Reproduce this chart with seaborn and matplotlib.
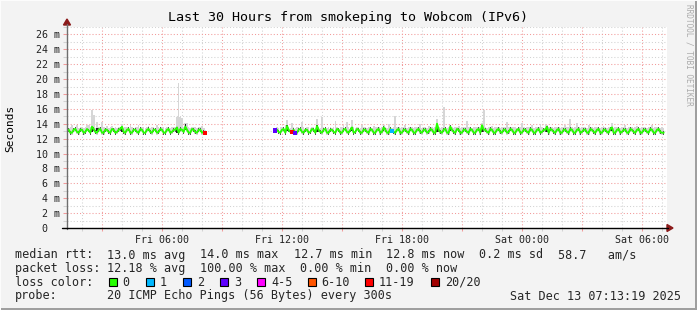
import numpy as np
import pandas as pd
import matplotlib
matplotlib.use("Agg")
import matplotlib.pyplot as plt
import seaborn as sns
from matplotlib.lines import Line2D
from matplotlib.patches import Polygon, Rectangle
from matplotlib.ticker import MultipleLocator, FuncFormatter

# ---------------- data ----------------
STEP_MIN = 5
LEFT_START_H = 1.25          # Fri 01:15
RIGHT_START_H = 11 + 40 / 60  # Fri 11:40

left_median = [
    13.1, 13.2, 12.8, 12.8, 13.2, 13.3, 12.9, 12.8, 13.2, 13.2, 12.8, 12.9,
    13.3, 13.1, 12.8, 13.6, 13.3, 12.9, 12.8, 13.2, 13.3, 12.8, 12.8, 13.2,
    13.2, 12.9, 12.8, 13.3, 13.2, 12.8, 12.9, 13.2, 13.3, 13.6, 12.9, 12.8,
    13.2, 13.3, 12.8, 12.8, 13.2, 13.2, 12.9, 12.8, 13.3, 13.2, 12.8, 12.8,
    13.2, 13.3, 12.9, 12.8, 13.2, 13.2, 12.8, 12.9, 13.3, 13.2, 12.8, 12.8,
    13.2, 13.3, 12.8, 12.9, 13.2, 13.2, 13.5, 12.8, 13.3, 13.2, 12.9, 13.6,
    13.2, 12.8, 12.8, 13.3, 13.2, 12.9, 12.8, 13.2, 13.2, 12.8, 12.9, 12.7,
]
left_hi = [
    13.6, 13.5, 13.6, 13.9, 13.5, 13.6, 13.9, 13.5, 13.6, 13.6, 13.5, 13.6,
    13.9, 13.9, 13.6, 15.9, 15.2, 13.5, 14.3, 13.6, 13.5, 14.3, 13.6, 13.5,
    13.7, 13.5, 13.6, 13.7, 13.5, 13.6, 13.5, 13.6, 13.6, 14.0, 13.5, 13.6,
    13.6, 13.5, 13.8, 13.6, 13.5, 13.6, 13.6, 13.8, 13.5, 13.6, 13.6, 13.5,
    13.6, 13.7, 13.5, 13.6, 13.6, 13.5, 13.8, 13.6, 13.5, 13.6, 13.6, 13.5,
    13.6, 13.6, 13.5, 13.6, 13.6, 13.6, 14.9, 19.5, 14.9, 14.8, 13.6, 14.1,
    14.1, 13.6, 13.5, 13.6, 13.6, 13.6, 13.5, 13.6, 13.6, 13.7, 13.5, 13.2,
]
left_dark = {15: (12.9, 13.6), 18: (13.0, 13.5), 33: (12.9, 13.6),
             66: (12.8, 13.6), 71: (13.1, 14.0)}
left_loss = {83: "11-19"}

right_median = [
    13.1, 13.2, 12.9, 12.8, 13.2, 13.3, 12.8, 13.7, 13.2, 12.9, 12.9, 13.2,
    12.8, 12.8, 13.2, 13.3, 12.9, 12.8, 13.2, 13.2, 12.8, 12.9, 13.3, 13.2,
    12.8, 13.7, 13.2, 12.9, 12.8, 13.2, 13.3, 12.8, 12.8, 13.2, 13.2, 12.9,
    12.8, 13.3, 13.2, 12.8, 12.8, 13.2, 13.3, 12.9, 12.8, 13.2, 13.5, 12.8,
    12.9, 13.3, 13.2, 12.8, 12.8, 13.2, 13.2, 12.9, 12.8, 13.3, 13.2, 12.8,
    12.8, 13.2, 13.3, 12.8, 12.9, 13.5, 13.2, 12.8, 12.8, 13.3, 13.0, 12.9,
    12.8, 13.2, 13.3, 12.8, 12.8, 13.2, 13.2, 12.9, 12.8, 13.3, 13.2, 12.8,
    12.8, 13.2, 13.3, 12.9, 12.8, 13.2, 13.2, 12.8, 12.9, 13.3, 13.2, 12.8,
    12.8, 14.0, 13.2, 12.9, 12.8, 13.2, 13.3, 12.8, 12.8, 13.6, 13.2, 12.9,
    12.8, 13.3, 13.2, 12.8, 12.8, 13.2, 13.2, 12.9, 12.8, 13.3, 13.2, 12.8,
    12.8, 13.2, 13.3, 12.8, 13.8, 13.2, 13.2, 12.9, 12.8, 13.3, 13.2, 12.8,
    12.8, 13.2, 13.3, 12.9, 12.8, 13.2, 13.2, 12.8, 12.9, 13.3, 13.2, 12.8,
    12.8, 13.2, 13.3, 12.8, 12.8, 13.2, 13.2, 12.9, 12.8, 13.3, 13.2, 12.8,
    12.8, 13.2, 13.3, 12.8, 12.9, 13.2, 13.2, 13.6, 12.8, 13.3, 13.2, 12.9,
    12.8, 13.2, 13.3, 12.8, 12.8, 13.2, 13.2, 12.9, 12.8, 13.3, 13.2, 12.8,
    12.8, 13.2, 13.3, 12.8, 12.9, 13.2, 13.2, 12.8, 12.8, 13.3, 13.2, 12.9,
    12.8, 13.2, 13.3, 12.8, 12.8, 13.2, 13.2, 12.9, 12.8, 13.3, 13.5, 12.8,
    12.8, 13.2, 13.3, 12.8, 12.9, 13.2, 13.2, 12.8, 12.8, 13.3, 13.2, 12.9,
    12.8, 13.2, 13.3, 12.8, 12.8, 13.2, 13.2, 12.9, 12.8, 13.3, 13.2, 12.8,
    12.8, 13.2, 13.3, 12.9, 12.8, 12.8,
]
right_hi = [
    13.5, 13.6, 13.5, 13.6, 13.6, 13.5, 13.9, 14.5, 13.6, 13.5, 14.1, 13.6,
    13.5, 13.6, 13.6, 13.5, 14.3, 13.6, 13.5, 13.6, 13.6, 13.5, 13.6, 13.6,
    13.5, 14.6, 13.6, 13.5, 14.9, 13.6, 13.6, 13.5, 13.6, 13.6, 13.5, 13.6,
    14.4, 13.6, 13.5, 13.6, 13.6, 13.8, 13.6, 14.3, 13.6, 13.6, 14.5, 13.6,
    13.5, 13.6, 13.6, 13.5, 13.8, 13.6, 13.6, 13.5, 13.6, 13.6, 13.5, 13.7,
    13.6, 13.6, 13.6, 13.5, 13.6, 13.8, 13.6, 13.5, 14.0, 13.6, 13.5, 13.6,
    15.0, 13.6, 13.6, 13.5, 13.6, 13.6, 13.8, 13.5, 13.6, 13.6, 13.6, 13.5,
    13.6, 13.6, 13.6, 14.0, 13.5, 13.6, 13.6, 13.5, 13.7, 13.6, 13.6, 13.5,
    13.6, 14.6, 13.6, 13.5, 13.6, 16.2, 13.6, 13.5, 13.6, 13.9, 13.6, 13.5,
    13.6, 13.6, 13.7, 13.5, 13.6, 13.6, 13.6, 14.4, 13.6, 13.6, 13.5, 13.6,
    13.6, 13.6, 13.6, 13.5, 14.1, 15.9, 13.6, 13.5, 13.6, 13.6, 13.7, 13.5,
    13.6, 13.6, 13.6, 13.5, 13.6, 13.6, 13.6, 14.2, 13.6, 13.5, 13.6, 13.6,
    13.6, 13.5, 13.6, 13.6, 14.1, 13.6, 13.5, 13.6, 13.6, 13.6, 13.8, 13.5,
    13.6, 13.6, 13.6, 14.0, 13.6, 13.5, 14.0, 13.9, 13.6, 13.6, 13.6, 13.5,
    13.6, 13.6, 13.6, 13.5, 13.6, 13.6, 13.8, 13.6, 13.6, 14.7, 13.6, 13.5,
    13.6, 14.1, 13.6, 13.5, 13.6, 13.6, 13.6, 13.5, 13.8, 13.6, 13.6, 13.5,
    13.6, 13.6, 13.6, 13.5, 13.6, 13.7, 13.6, 13.5, 13.6, 13.6, 14.1, 13.5,
    13.6, 13.6, 13.6, 13.5, 13.6, 13.6, 13.8, 13.5, 13.6, 13.6, 13.6, 13.5,
    13.6, 13.7, 13.6, 13.5, 13.6, 13.6, 13.6, 13.5, 13.6, 13.6, 13.9, 13.5,
    13.6, 13.6, 13.6, 13.5, 13.6, 13.5,
]
right_dark = {7: (13.0, 13.8), 25: (12.9, 13.8), 46: (13.0, 13.6), 65: (13.0, 13.6),
              97: (12.9, 14.0), 105: (13.0, 13.6), 124: (12.9, 13.9),
              163: (12.9, 13.7), 202: (13.0, 13.5)}
right_loss = {0: "3", 10: "11-19", 12: "3", 70: "1"}

SMOKE_SPREAD = 0.25   # half-width of the dense ping core around the median (ms)

LOSS_LABELS = ["0", "1", "2", "3", "4-5", "6-10", "11-19", "20/20"]
LOSS_COLORS = ["#26ff00", "#00b8ff", "#0059ff", "#5e00ff", "#ff00ff",
               "#ff5500", "#ff0000", "#a00000"]

TICK_HOURS = {6: "Fri 06:00", 12: "Fri 12:00", 18: "Fri 18:00",
              24: "Sat 00:00", 30: "Sat 06:00"}
X_RANGE = (1.25, 31.25)
Y_MAX = 27.0

TITLE = "Last 30 Hours from smokeping to Wobcom (IPv6)"
RTT_STATS = ["13.0 ms avg", "14.0 ms max", "12.7 ms min", "12.8 ms now",
             "0.2 ms sd", "58.7   am/s"]
LOSS_STATS = ["12.18 % avg", "100.00 % max", "0.00 % min", "0.00 % now"]
PROBE = "20 ICMP Echo Pings (56 Bytes) every 300s"
STAMP = "Sat Dec 13 07:13:19 2025"

# ---------------- figure ----------------
sns.set_theme(style="white")
MONO = ['DejaVu Sans Mono', 'DejaVu Sans']
plt.rcParams['font.family'] = MONO

W, H = 697, 310
BG = '#f3f3f3'
fig = plt.figure(figsize=(W / 100, H / 100), dpi=100, facecolor=BG)


def fx(p):
    return p / W


def fy(p):
    return 1 - p / H


ax = fig.add_axes([fx(67), fy(228), fx(667) - fx(67), fy(27) - fy(228)])
ax.set_facecolor('white')
step_h = STEP_MIN / 60.0


def seg_frame(start, med, hi):
    n = min(len(med), len(hi))
    t = [start + i * step_h for i in range(n)]
    return pd.DataFrame({"hours": t, "median": med[:n], "hi": hi[:n]})


segments = [
    (seg_frame(LEFT_START_H, left_median, left_hi), left_dark, left_loss),
    (seg_frame(RIGHT_START_H, right_median, right_hi), right_dark, right_loss),
]

for df, dark, loss in segments:
    # light smoke (full ping range)
    ax.bar(df["hours"], df["hi"] - df["median"] + SMOKE_SPREAD,
           bottom=df["median"] - SMOKE_SPREAD,
           width=step_h, color='#d6d6d6', linewidth=0, zorder=2)
    # dense core of the smoke around the median
    ax.bar(df["hours"], 2 * SMOKE_SPREAD, bottom=df["median"] - SMOKE_SPREAD,
           width=step_h * 0.5, color='#555555', linewidth=0, zorder=2.5)
    di = [i for i in dark if i < len(df)]
    ax.bar(df["hours"].iloc[di], [dark[i][1] - dark[i][0] for i in di],
           bottom=[dark[i][0] for i in di], width=step_h * 0.8,
           color='#1e1e1e', linewidth=0, zorder=3)
    sns.lineplot(data=df, x="hours", y="median", ax=ax, color=LOSS_COLORS[0],
                 lw=1.4, estimator=None, sort=False, zorder=4)
    li = [i for i in loss if i < len(df)]
    ldf = pd.DataFrame({"hours": df["hours"].iloc[li].values,
                        "median": df["median"].iloc[li].values,
                        "loss": [loss[i] for i in li]})
    sns.scatterplot(data=ldf, x="hours", y="median", hue="loss",
                    palette=dict(zip(LOSS_LABELS, LOSS_COLORS)), marker='s',
                    s=9, linewidth=0, legend=False, ax=ax, zorder=5)

ax.set_xlim(*X_RANGE)
ax.set_ylim(0, Y_MAX)
ax.set_xlabel("")
ax.set_ylabel("")
for s in ax.spines.values():
    s.set_visible(False)

ax.xaxis.set_major_locator(MultipleLocator(3))
ax.xaxis.set_minor_locator(MultipleLocator(1))
ax.xaxis.set_major_formatter(FuncFormatter(lambda v, p: TICK_HOURS.get(int(round(v)), "")))
ax.yaxis.set_major_locator(MultipleLocator(2))
ax.yaxis.set_minor_locator(MultipleLocator(1))
ax.yaxis.set_major_formatter(FuncFormatter(lambda v, p: "0  " if abs(v) < 1e-9 else f"{v:.0f} m"))

ax.set_axisbelow(True)
ax.grid(which='major', color='#f29a9a', linestyle=(0, (1, 2)), linewidth=0.75)
ax.grid(which='minor', color='#d2d2d2', linestyle=(0, (1, 2)), linewidth=0.75)
ax.tick_params(axis='y', which='major', length=2.9, width=0.75, color='#f29a9a',
               pad=2.2, labelsize=7.2, labelcolor='#222222', left=True)
ax.tick_params(axis='y', which='minor', length=2.9, width=0.75, color='#d2d2d2', left=True)
ax.tick_params(axis='x', which='major', length=2.0, width=0.75, color='#f29a9a',
               pad=3.0, labelsize=7.2, labelcolor='#222222', bottom=True)
ax.tick_params(axis='x', which='minor', length=2.0, width=0.75, color='#d2d2d2', bottom=True)
for lab in ax.get_xticklabels() + ax.get_yticklabels():
    lab.set_family(MONO)

# axes lines and arrows
fig.add_artist(Line2D([fx(67), fx(67)], [fy(229), fy(24)], color='#6e6e6e', lw=1.0))
fig.add_artist(Line2D([fx(62), fx(668)], [fy(228), fy(228)], color='black', lw=1.0))
fig.add_artist(Polygon([[fx(63.5), fy(25)], [fx(70.5), fy(25)], [fx(67), fy(19)]],
                       closed=True, color='#8b1a1a', transform=fig.transFigure))
fig.add_artist(Polygon([[fx(667), fy(224.5)], [fx(667), fy(231.5)], [fx(673), fy(228)]],
                       closed=True, color='#8b1a1a', transform=fig.transFigure))

# title, unit, watermark
fig.text(fx(348), fy(18), TITLE, ha='center', va='center', fontsize=9.6, color='black')
fig.text(fx(10), fy(128), "Seconds", rotation=90, ha='center', va='center',
         fontsize=8.0, color='black')
fig.text(fx(689), fy(4), "RRDTOOL / TOBI OETIKER", rotation=270, ha='center', va='top',
         fontsize=5.6, color='#ababab')

# legend block
LEG = 8.5
fig.text(fx(15), fy(255), "median rtt:", va='center', fontsize=LEG)
for xpos, s in zip([107, 200, 293.5, 386, 479, 558.5], RTT_STATS):
    fig.text(fx(xpos), fy(255), s, va='center', fontsize=LEG)
fig.text(fx(15), fy(268.5), "packet loss:", va='center', fontsize=LEG)
for xpos, s in zip([107, 200, 300, 386], LOSS_STATS):
    fig.text(fx(xpos), fy(268.5), s, va='center', fontsize=LEG)
fig.text(fx(15), fy(282), "loss color:", va='center', fontsize=LEG)
box_x = [109, 146, 183, 220, 257, 308, 365, 431]
lab_x = [122, 160, 197, 234, 271, 321, 379, 445]
for bx, lx, lab, col in zip(box_x, lab_x, LOSS_LABELS, LOSS_COLORS):
    fig.add_artist(Rectangle((fx(bx), fy(286)), fx(8), 8 / H, facecolor=col,
                             edgecolor='black', lw=0.8, transform=fig.transFigure))
    fig.text(fx(lx), fy(282), lab, va='center', fontsize=LEG)
fig.text(fx(15), fy(296), "probe:", va='center', fontsize=LEG)
fig.text(fx(107), fy(296), PROBE, va='center', fontsize=LEG)
fig.text(fx(681), fy(296), STAMP, va='center', ha='right', fontsize=LEG)

# frame shading
fig.add_artist(Rectangle((fx(694.5), 0), fx(2.5), 1, facecolor='#9f9f9f', lw=0,
                         transform=fig.transFigure))
fig.add_artist(Rectangle((0, 0), 1, 2.5 / H, facecolor='#9f9f9f', lw=0,
                         transform=fig.transFigure))
fig.add_artist(Rectangle((0, 0), fx(1), 1, facecolor='#fcfcfc', lw=0,
                         transform=fig.transFigure))
fig.add_artist(Rectangle((0, 1 - 1 / H), 1, 1 / H, facecolor='#fcfcfc', lw=0,
                         transform=fig.transFigure))

fig.savefig("out.png", dpi=100, facecolor=BG)
